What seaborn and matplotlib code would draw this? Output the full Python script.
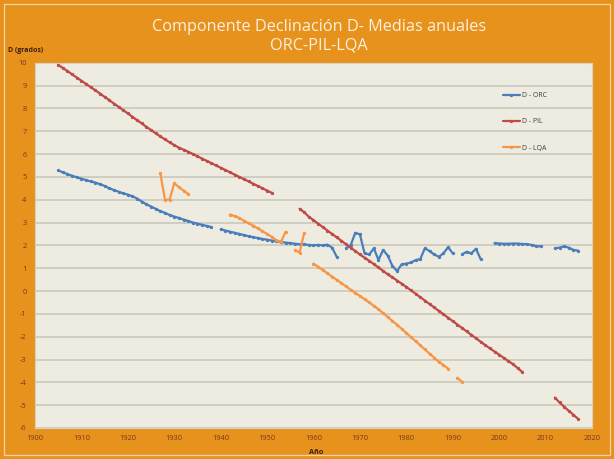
import seaborn as sns
import pandas as pd
import numpy as np
import matplotlib.pyplot as plt
from matplotlib.lines import Line2D
from matplotlib.patches import Rectangle

# --- datos (D en grados, medias anuales) ---
orc_anos_1 = list(range(1905, 1939))
orc_val_1 = [5.28, 5.2, 5.12, 5.05, 4.98, 4.92, 4.86, 4.8, 4.75, 4.68,
             4.6, 4.5, 4.42, 4.35, 4.28, 4.22, 4.15, 4.05, 3.92, 3.8,
             3.7, 3.6, 3.5, 3.42, 3.33, 3.26, 3.2, 3.13, 3.07, 3.0,
             2.95, 2.9, 2.85, 2.8]
orc_anos_2 = list(range(1940, 1966))
orc_val_2 = [2.7, 2.65, 2.6, 2.55, 2.5, 2.45, 2.4, 2.36, 2.32, 2.28,
             2.25, 2.21, 2.18, 2.15, 2.12, 2.1, 2.07, 2.05, 2.04, 2.02,
             2.0, 2.02, 2.0, 2.03, 1.9, 1.5]
orc_anos_3 = list(range(1967, 1991))
orc_val_3 = [1.87, 2.0, 2.55, 2.48, 1.65, 1.6, 1.87, 1.36, 1.8, 1.55,
             1.1, 0.87, 1.17, 1.2, 1.25, 1.35, 1.4, 1.87, 1.75, 1.6,
             1.5, 1.65, 1.92, 1.65]
orc_anos_4 = list(range(1992, 1997))
orc_val_4 = [1.6, 1.72, 1.65, 1.85, 1.4]
orc_anos_5 = list(range(1999, 2010))
orc_val_5 = [2.1, 2.08, 2.07, 2.07, 2.08, 2.08, 2.06, 2.05, 2.02, 1.97, 1.95]
orc_anos_6 = list(range(2012, 2018))
orc_val_6 = [1.87, 1.9, 1.95, 1.9, 1.8, 1.77]

pil_anos_1 = list(range(1905, 1952))
pil_val_1 = [9.9, 9.77, 9.63, 9.49, 9.35, 9.21, 9.07, 8.93, 8.79, 8.65,
             8.5, 8.36, 8.21, 8.07, 7.92, 7.78, 7.63, 7.48, 7.34, 7.19,
             7.05, 6.91, 6.77, 6.64, 6.51, 6.39, 6.28, 6.19, 6.1, 6.0,
             5.9, 5.8, 5.7, 5.6, 5.5, 5.4, 5.3, 5.2, 5.1, 5.0,
             4.9, 4.8, 4.7, 4.6, 4.5, 4.4, 4.3]
pil_anos_2 = list(range(1957, 2006))
pil_val_2 = [3.6, 3.45, 3.25, 3.1, 2.95, 2.8, 2.65, 2.5, 2.35, 2.2,
             2.05, 1.9, 1.75, 1.6, 1.46, 1.32, 1.18, 1.03, 0.88, 0.73,
             0.6, 0.46, 0.32, 0.18, 0.03, -0.12, -0.27, -0.42, -0.57, -0.72,
             -0.87, -1.02, -1.17, -1.32, -1.47, -1.62, -1.77, -1.92, -2.07, -2.22,
             -2.37, -2.51, -2.65, -2.79, -2.93, -3.07, -3.21, -3.38, -3.55]
pil_anos_3 = list(range(2012, 2018))
pil_val_3 = [-4.67, -4.88, -5.07, -5.25, -5.42, -5.6]

lqa_anos_1 = list(range(1927, 1934))
lqa_val_1 = [5.15, 4.0, 4.0, 4.72, 4.55, 4.4, 4.25]
lqa_anos_2 = list(range(1942, 1955))
lqa_val_2 = [3.35, 3.28, 3.2, 3.08, 2.97, 2.86, 2.74, 2.62, 2.5, 2.37,
             2.22, 2.15, 2.6]
lqa_anos_3 = list(range(1956, 1959))
lqa_val_3 = [1.8, 1.68, 2.55]
lqa_anos_4 = list(range(1960, 1990))
lqa_val_4 = [1.2, 1.06, 0.92, 0.78, 0.63, 0.49, 0.35, 0.2, 0.06, -0.08,
             -0.22, -0.36, -0.5, -0.65, -0.8, -0.97, -1.14, -1.31, -1.48, -1.66,
             -1.84, -2.02, -2.2, -2.38, -2.56, -2.74, -2.92, -3.1, -3.25, -3.4]
lqa_anos_5 = [1991, 1992]
lqa_val_5 = [-3.8, -3.97]

series = ['D - ORC', 'D - PIL', 'D - LQA']
colores = ['#4A7EBB', '#BE4B48', '#F79646']

tramos = [
    ('D - ORC', orc_anos_1, orc_val_1), ('D - ORC', orc_anos_2, orc_val_2),
    ('D - ORC', orc_anos_3, orc_val_3), ('D - ORC', orc_anos_4, orc_val_4),
    ('D - ORC', orc_anos_5, orc_val_5), ('D - ORC', orc_anos_6, orc_val_6),
    ('D - PIL', pil_anos_1, pil_val_1), ('D - PIL', pil_anos_2, pil_val_2),
    ('D - PIL', pil_anos_3, pil_val_3),
    ('D - LQA', lqa_anos_1, lqa_val_1), ('D - LQA', lqa_anos_2, lqa_val_2),
    ('D - LQA', lqa_anos_3, lqa_val_3), ('D - LQA', lqa_anos_4, lqa_val_4),
    ('D - LQA', lqa_anos_5, lqa_val_5),
]
filas = []
for i, (s, anos, vals) in enumerate(tramos):
    for a, v in zip(anos, vals):
        filas.append({'Año': a, 'D': v, 'serie': s, 'tramo': i})
df = pd.DataFrame(filas)

sns.set_theme(style='white')
plt.rcParams['font.family'] = ['Open Sans', 'DejaVu Sans']
plt.rcParams['axes.unicode_minus'] = False

naranja = '#E8921E'
fig = plt.figure(figsize=(6.14, 4.59), dpi=100, facecolor=naranja)
ax = fig.add_axes([35 / 614, 1 - 428 / 459, 557 / 614, (428 - 62.7) / 459])
ax.set_facecolor('#EEECE1')

sns.lineplot(data=df, x='Año', y='D', hue='serie', units='tramo',
             estimator=None, sort=False, hue_order=series, palette=colores,
             marker='o', markersize=2.4, markeredgewidth=0, linewidth=1.6,
             legend=False, ax=ax, zorder=3)

ax.set_xlim(1900, 2020)
ax.set_ylim(-6, 10)
ax.set_xticks(range(1900, 2021, 10))
ax.set_yticks(range(-6, 11))
ax.grid(axis='y', color='#C8C5B8', linewidth=1.1)
ax.grid(axis='x', visible=False)
ax.set_axisbelow(True)
for sp in ax.spines.values():
    sp.set_color('#D6D2C2')
    sp.set_linewidth(0.8)
ax.tick_params(length=0, labelsize=5.4, labelcolor='#74391A')
ax.tick_params(axis='y', pad=6)
ax.tick_params(axis='x', pad=5)
ax.set_xlabel('')
ax.set_ylabel('')

fig.text(319 / 614, 1 - 27 / 459, 'Componente Declinación D- Medias anuales',
         ha='center', va='center', fontsize=11.7, color='#FDF0DC')
fig.text(319 / 614, 1 - 46 / 459, 'ORC-PIL-LQA', ha='center', va='center',
         fontsize=11.7, color='#FDF0DC')
fig.text(8 / 614, 1 - 50 / 459, 'D (grados)', ha='left', va='center',
         fontsize=5, fontweight='bold', color='#3A1E08')
fig.text(316 / 614, 1 - 452 / 459, 'Año', ha='center', va='center',
         fontsize=5.2, fontweight='bold', color='#3A1E08')

manejadores = [Line2D([], [], color=c, linewidth=1.6, marker='o',
                      markersize=2.4, markeredgewidth=0) for c in colores]
ax.legend(manejadores, series, loc='upper left',
          bbox_to_anchor=(503 / 614, 1 - 92 / 459),
          bbox_transform=fig.transFigure, frameon=False, fontsize=5,
          handlelength=2.4, handletextpad=0.3, labelspacing=2.8,
          borderpad=0, borderaxespad=0, labelcolor='#404040')

fig.patches.append(Rectangle((4 / 614, 4 / 459), 606 / 614, 451 / 459,
                             transform=fig.transFigure, fill=False,
                             edgecolor='#F6D3A2', linewidth=0.9))

fig.savefig('out.png', dpi=100, facecolor=naranja)
